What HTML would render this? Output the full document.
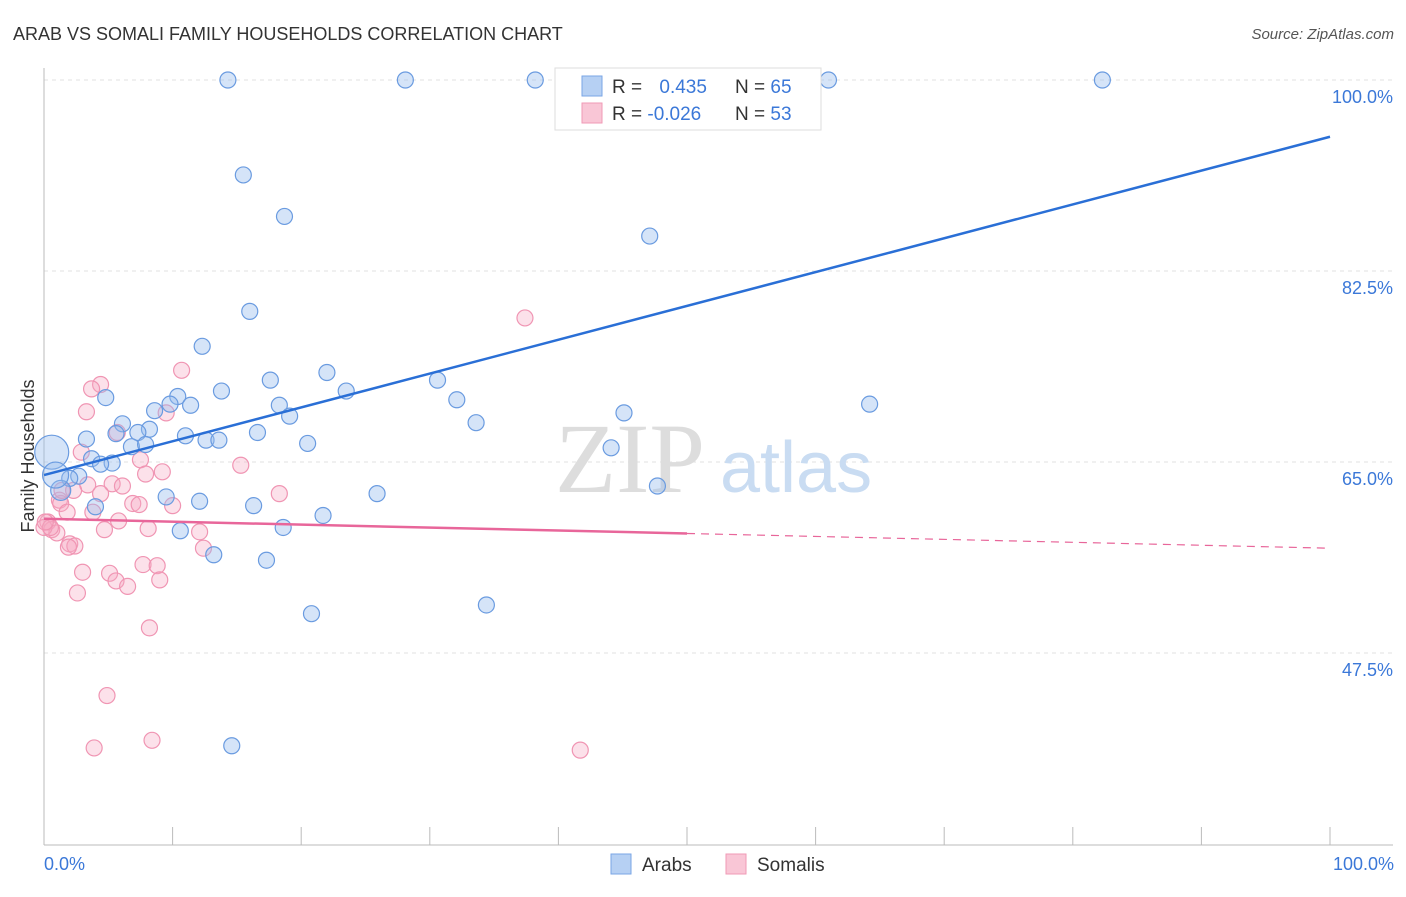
<!DOCTYPE html>
<html><head><meta charset="utf-8"><style>
body{margin:0;background:#fff;font-family:"Liberation Sans",sans-serif;}
</style></head><body>
<svg width="1406" height="892" xmlns="http://www.w3.org/2000/svg" font-family="Liberation Sans, sans-serif">
<text x="13" y="40" font-size="18" fill="#333">ARAB VS SOMALI FAMILY HOUSEHOLDS CORRELATION CHART</text>
<text x="1394" y="39" font-size="15" fill="#555" text-anchor="end" font-style="italic">Source: ZipAtlas.com</text>
<g id="grid"></g>
<text x="555" y="492" font-size="100" fill="#ddd" font-family="Liberation Serif, serif">ZIP</text>
<text x="720" y="492" font-size="72" fill="#c9dcf2">atlas</text>
<g id="pts"></g>
<g id="trends"></g>
<text transform="translate(34,456) rotate(-90)" font-size="18" fill="#333" text-anchor="middle">Family Households</text>
<text x="44" y="870" font-size="18" fill="#3b78d8">0.0%</text>
<text x="1394" y="870" font-size="18" fill="#3b78d8" text-anchor="end">100.0%</text>
<g>
<rect x="555" y="68" width="266" height="62" fill="#fff" stroke="#ddd"/>
<rect x="582" y="76" width="20" height="20" fill="#b6d0f3" stroke="#7aa6e6"/>
<rect x="582" y="103" width="20" height="20" fill="#f9c6d6" stroke="#f09ab6"/>
<text x="612" y="93" font-size="19" fill="#333">R = <tspan fill="#3b78d8" dx="12">0.435</tspan><tspan x="735" fill="#333">N = </tspan><tspan fill="#3b78d8">65</tspan></text>
<text x="612" y="120" font-size="19" fill="#333">R = <tspan fill="#3b78d8">-0.026</tspan><tspan x="735" fill="#333">N = </tspan><tspan fill="#3b78d8">53</tspan></text>
</g>
<g>
<rect x="611" y="854" width="20" height="20" fill="#b6d0f3" stroke="#7aa6e6"/>
<text x="642" y="871" font-size="19" fill="#333">Arabs</text>
<rect x="726" y="854" width="20" height="20" fill="#f9c6d6" stroke="#f09ab6"/>
<text x="757" y="871" font-size="19" fill="#333">Somalis</text>
</g>
</svg>
<script>
const yTicks=[100,82.5,65,47.5];
const yTickLabels=["100.0%","82.5%","65.0%","47.5%"];
const xTicks=[0,10,20,30,40,50,60,70,80,90,100];
const arabX=[14.3,28.1,38.2,61.0,82.3,15.5,18.7,47.1,16.0,12.3,22.0,17.6,30.6,23.5,13.8,10.4,4.8,32.1,64.2,11.4,18.3,9.8,8.6,19.1,45.1,33.6,6.1,8.2,7.3,3.3,5.6,11.0,16.6,12.6,13.6,20.5,6.8,7.9,44.1,3.7,5.3,4.4,2.7,2.0,1.3,47.7,25.9,9.5,12.1,4.0,16.3,21.7,18.6,10.6,13.2,17.3,34.4,20.8,14.6,0.6,0.9];
const arabY=[100,100,100,100,100,91.3,87.5,85.7,78.8,75.6,73.2,72.5,72.5,71.5,71.5,71.0,70.9,70.7,70.3,70.2,70.2,70.3,69.7,69.2,69.5,68.6,68.5,68.0,67.7,67.1,67.6,67.4,67.7,67.0,67.0,66.7,66.4,66.6,66.3,65.3,64.9,64.8,63.7,63.5,62.4,62.8,62.1,61.8,61.4,60.9,61.0,60.1,59.0,58.7,56.5,56.0,51.9,51.1,39.0,65.9,63.8];
const arabR=[8,8,8,8,8,8,8,8,8,8,8,8,8,8,8,8,8,8,8,8,8,8,8,8,8,8,8,8,8,8,8,8,8,8,8,8,8,8,8,8,8,8,8,8,10,8,8,8,8,8,8,8,8,8,8,8,8,8,8,17,13];
const somX=[37.4,10.7,4.4,3.7,3.3,9.5,5.7,2.9,7.5,15.3,9.2,7.9,3.4,5.3,6.1,18.3,2.3,4.4,1.2,6.9,7.4,10.0,1.3,3.8,1.8,5.8,8.1,12.1,4.7,0.3,0.6,1.0,2.0,2.4,12.4,3.0,5.1,7.7,8.8,5.6,6.5,9.0,2.6,8.2,4.9,3.9,8.4,41.7,1.4,1.9,0,0.5,0.1];
const somY=[78.2,73.4,72.1,71.7,69.6,69.5,67.7,65.9,65.2,64.7,64.1,63.9,62.9,63.0,62.8,62.1,62.4,62.1,61.5,61.2,61.1,61.0,61.2,60.4,60.4,59.6,58.9,58.6,58.8,59.5,58.8,58.5,57.5,57.3,57.1,54.9,54.8,55.6,55.5,54.1,53.6,54.2,53.0,49.8,43.6,38.8,39.5,38.6,62.4,57.2,59.0,59.0,59.5];
const arabTrend=[63.8,94.8];
const somTrend=[59.8,57.1];
const NS="http://www.w3.org/2000/svg";
const sx=v=>44+v*12.86;
const sy=v=>80+(100-v)*10.914;
function mk(t,a,p){const e=document.createElementNS(NS,t);for(const k in a)e.setAttribute(k,a[k]);p.appendChild(e);return e;}
const grid=document.getElementById('grid');
yTicks.forEach((t,i)=>{
 const l=mk('line',{x1:44,x2:1393,y1:sy(t),y2:sy(t),stroke:'#e2e2e2','stroke-dasharray':'4,4'},grid);
 
 
 const tx=mk('text',{x:1393,y:sy(t)+23,'font-size':18,fill:'#3b78d8','text-anchor':'end'},grid);
 tx.textContent=yTickLabels[i];
 
 
});
const ax=mk('line',{x1:44,x2:44,y1:68,y2:845,stroke:'#bbb'},grid);


const bx=mk('line',{x1:44,x2:1393,y1:845,y2:845,stroke:'#bbb'},grid);


xTicks.forEach(t=>{const l=mk('line',{x1:sx(t),x2:sx(t),y1:827,y2:845,stroke:'#bbb'},grid);
 
 });
const pts=document.getElementById('pts');
somX.forEach((x,i)=>{const c=mk('circle',{cx:sx(x),cy:sy(somY[i]),r:8,fill:'rgba(247,170,195,0.35)',stroke:'#f095b3','stroke-width':1.2},pts);
 
 });
arabX.forEach((x,i)=>{const c=mk('circle',{cx:sx(x),cy:sy(arabY[i]),r:arabR[i],fill:'rgba(150,188,238,0.4)',stroke:'#6a9be0','stroke-width':1.2},pts);
 
 });
const tr=document.getElementById('trends');
const a=mk('line',{x1:sx(0),y1:sy(arabTrend[0]),x2:sx(100),y2:sy(arabTrend[1]),stroke:'#2a6fd6','stroke-width':2.5},tr);


const mid=somTrend[0]+(somTrend[1]-somTrend[0])*0.5;
const s1=mk('line',{x1:sx(0),y1:sy(somTrend[0]),x2:sx(50),y2:sy(mid),stroke:'#e8669a','stroke-width':2.5},tr);


const s2=mk('line',{x1:sx(50),y1:sy(mid),x2:sx(100),y2:sy(somTrend[1]),stroke:'#e8669a','stroke-width':1.2,'stroke-dasharray':'8,6'},tr);


</script>
</body></html>
